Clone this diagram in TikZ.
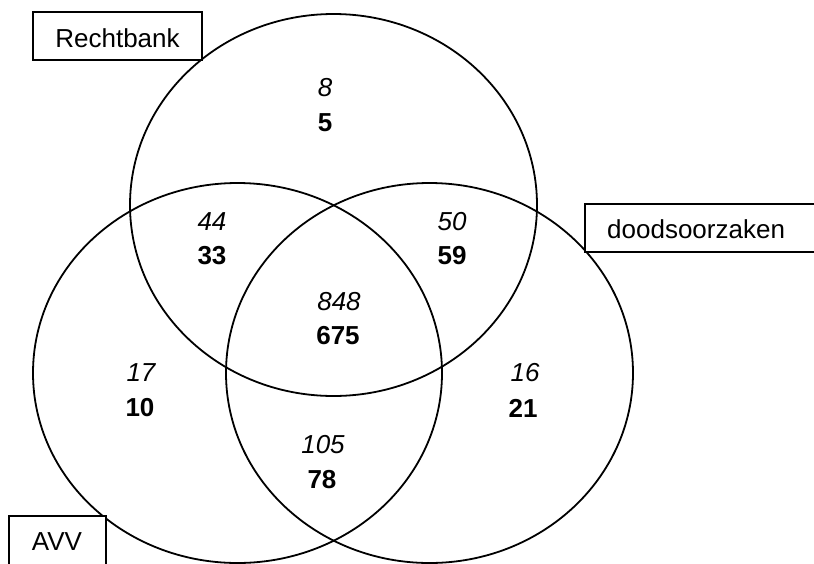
\documentclass[tikz,border=0pt]{standalone}
\usepackage{fontspec}
\setmainfont{Liberation Sans}
\begin{document}
\begin{tikzpicture}[x=1pt,y=-1pt,
  set/.style={line width=1.8pt},
  tagbox/.style={draw,line width=1.8pt,fill=white},
  tagtext/.style={inner sep=0pt,font=\fontsize{26}{30}\selectfont},
  old/.style={inner sep=0pt,font=\fontsize{26}{30}\selectfont\itshape},
  new/.style={inner sep=0pt,font=\fontsize{26}{30}\selectfont\bfseries}]
\useasboundingbox (0,0) rectangle (814,563);
\clip (0,0) rectangle (814,563);

% the three sets
\draw[set] (333.5,205) ellipse [x radius=203.5, y radius=191];
\draw[set] (237.5,373) ellipse [x radius=204.5, y radius=190];
\draw[set] (429.5,373) ellipse [x radius=203.5, y radius=190];

% set labels
\draw[tagbox] (33,12) rectangle (202,60);
\node[tagtext,anchor=base] (rechtbank) at (117.5,47) {Rechtbank};
\draw[tagbox] (585,204) rectangle (830,252);
\node[tagtext,anchor=base west] (dood) at (607,238) {doodsoorzaken};
\draw[tagbox] (9,516) rectangle (106,580);
\node[tagtext,anchor=base] (avv) at (57,550) {AVV};

% region counts: italic above, bold below
\node[old] (r1a) at (325,88) {8};
\node[new] (r1b) at (325,123) {5};
\node[old] (r2a) at (212,222) {44};
\node[new] (r2b) at (212,256) {33};
\node[old] (r3a) at (452,222) {50};
\node[new] (r3b) at (452,256) {59};
\node[old] (r4a) at (339,302) {848};
\node[new] (r4b) at (338,336) {675};
\node[old] (r5a) at (141,373) {17};
\node[new] (r5b) at (140,408) {10};
\node[old] (r6a) at (525,373) {16};
\node[new] (r6b) at (523,408) {21};
\node[old] (r7a) at (323,445) {105};
\node[new] (r7b) at (322,480) {78};
\end{tikzpicture}
\end{document}
